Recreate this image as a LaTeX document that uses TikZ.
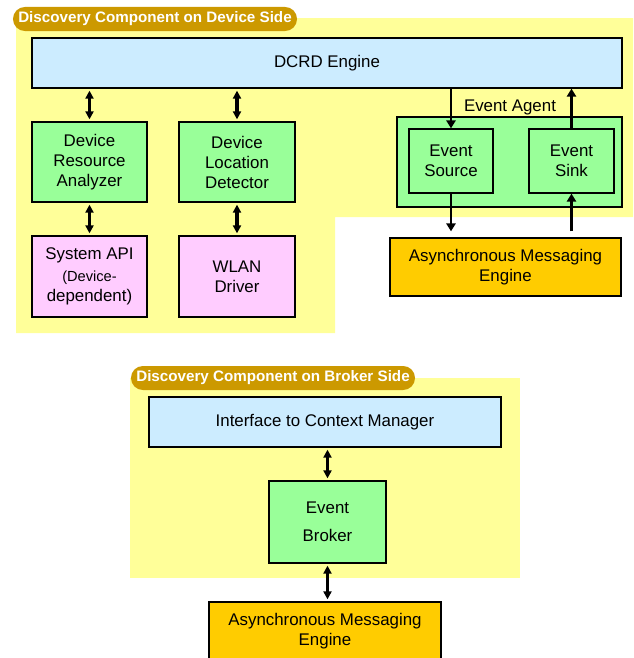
\documentclass[tikz,border=0pt]{standalone}
\usepackage{fontspec}
\setmainfont{Liberation Sans}
\usetikzlibrary{arrows.meta,positioning}
\definecolor{paleyellow}{RGB}{255,255,153}
\definecolor{tabgold}{RGB}{204,153,0}
\definecolor{engineblue}{RGB}{204,236,255}
\definecolor{modgreen}{RGB}{153,255,153}
\definecolor{drvpink}{RGB}{255,204,255}
\definecolor{msgorange}{RGB}{255,204,0}
\tikzset{
  compbox/.style={
    draw=black,
    line width=0.9pt,
    align=center,
    inner sep=2pt,
    font=\fontsize{12}{14.2}\selectfont
  },
  enginebox/.style={compbox, fill=engineblue},
  modbox/.style={compbox, fill=modgreen},
  drvbox/.style={compbox, fill=drvpink},
  msgbox/.style={compbox, fill=msgorange},
  sidetab/.style={
    fill=tabgold,
    rounded corners=0.3cm,
    text=white,
    inner sep=0pt,
    minimum width=7.1cm,
    minimum height=0.6cm,
    font=\bfseries\fontsize{10.8}{12}\selectfont
  },
  flowarrow/.style={
    -{Triangle[length=2mm,width=2.3mm]},
    line width=2.1pt
  },
  biarrow/.style={
    {Triangle[length=2mm,width=2mm]}-{Triangle[length=2mm,width=2mm]},
    line width=2.2pt,
    shorten <=0.05cm,
    shorten >=0.05cm
  }
}

\begin{document}
\begin{tikzpicture}[x=0.025cm, y=-0.025cm]
  \useasboundingbox (0,0) rectangle (633,658);
  % device side
  \fill[paleyellow] (16,18) -- (633,18) -- (633,217) -- (335,217) -- (335,333) -- (16,333) -- cycle;
  \node[sidetab] (devtab) at (155,19) {Discovery Component on Device Side};
  \node[enginebox, minimum width=14.75cm, minimum height=1.25cm] (dcrd) at (327,63) {DCRD Engine};
  \node[modbox, minimum width=2.875cm, minimum height=2cm] (analyzer) at (89.5,162) {Device\\Resource\\Analyzer};
  \node[modbox, minimum width=2.9cm, minimum height=2cm] (locator) at (237,162) {Device\\Location\\Detector};
  \node[drvbox, minimum width=2.875cm, minimum height=2.025cm] (sysapi) at (89.5,276.5)
    {System API\\[1.5pt]\fontsize{10.4}{13.5}\selectfont(Device-\\dependent)};
  \node[drvbox, minimum width=2.9cm, minimum height=2.025cm] (wlan) at (237,276.5) {WLAN\\Driver};
  \node[modbox, minimum width=5.625cm, minimum height=2.25cm] (agent) at (509.5,162) {};
  \node[font=\fontsize{12}{14.2}\selectfont] (agentlbl) at (510,107) {Event Agent};
  \node[modbox, minimum width=2.1cm, minimum height=1.6cm] (source) at (451,161) {Event\\Source};
  \node[modbox, minimum width=2.125cm, minimum height=1.6cm] (sink) at (571.5,161) {Event\\Sink};
  \node[msgbox, minimum width=5.775cm, minimum height=1.45cm] (devmsg) at (505.5,267) {Asynchronous Messaging\\Engine};

  \draw[biarrow] (dcrd.south -| analyzer) -- (analyzer.north);
  \draw[biarrow] (dcrd.south -| locator) -- (locator.north);
  \draw[biarrow] (analyzer.south) -- (sysapi.north);
  \draw[biarrow] (locator.south) -- (wlan.north);
  \draw[flowarrow] (dcrd.south -| source) -- (source.north);
  \draw[flowarrow] (sink.north) -- (sink.north |- dcrd.south);
  \draw[flowarrow, shorten >=0.15cm] (source.south) -- (source.south |- devmsg.north);
  \draw[flowarrow, shorten <=0.15cm] (sink.south |- devmsg.north) -- (sink.south);

  % broker side
  \fill[paleyellow] (130,378) rectangle (520,578);
  \node[sidetab] (brktab) at (273,378) {Discovery Component on Broker Side};
  \node[enginebox, minimum width=8.8cm, minimum height=1.25cm] (ctxif) at (325,422) {Interface to Context Manager};
  \node[modbox, minimum width=2.925cm, minimum height=2.05cm] (broker) at (327.5,522) {Event\\[6pt]Broker};
  \node[msgbox, minimum width=5.8cm, minimum height=1.45cm] (brkmsg) at (325,631) {Asynchronous Messaging\\Engine};

  \draw[biarrow] (ctxif.south -| broker) -- (broker.north);
  \draw[biarrow] (broker.south) -- (brkmsg.north -| broker);
\end{tikzpicture}
\end{document}
